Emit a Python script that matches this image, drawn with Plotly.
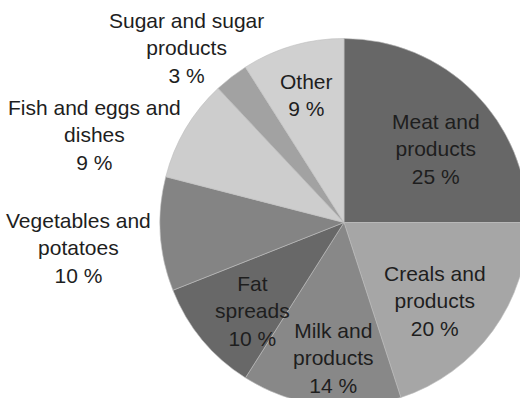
import plotly.graph_objects as go

# Share of intake by food group (%), clockwise from 12 o'clock
labels = [
    "Meat and<br>products",
    "Creals and<br>products",
    "Milk and<br>products",
    "Fat<br>spreads",
    "Vegetables and<br>potatoes",
    "Fish and eggs and<br>dishes",
    "Sugar and sugar<br>products",
    "Other",
]
values = [25, 20, 14, 10, 10, 9, 3, 9]
colors = ["#676767", "#a6a6a6", "#888888", "#686868",
          "#848484", "#cdcdcd", "#a2a2a2", "#d0d0d0"]

# label block centres in page pixels (from top-left)
label_x = [436, 435, 333, 252, 78, 94, 186, 306]
label_y = [149, 301, 358, 311, 248, 135, 48, 95]

W, H = 528, 407
R = 184
cx, cy = 344, 222.5

fig = go.Figure(
    go.Pie(
        labels=labels,
        values=values,
        sort=False,
        direction="clockwise",
        rotation=0,
        marker=dict(colors=colors, line=dict(color="#bdbdbd", width=0.6)),
        textinfo="none",
        hoverinfo="label+percent",
        showlegend=False,
        domain=dict(
            x=[(cx - R) / W, (cx + R) / W],
            y=[1 - (cy + R) / H, 1 - (cy - R) / H],
        ),
    )
)

for lab, val, x, y in zip(labels, values, label_x, label_y):
    fig.add_annotation(
        x=x / W, y=1 - y / H, xref="paper", yref="paper",
        text=f"{lab}<br>{val} %",
        showarrow=False, xanchor="center", yanchor="middle",
        align="center",
        font=dict(family="Liberation Sans, Arial, sans-serif", size=21, color="#1e1e1e"),
    )

fig.update_layout(
    width=W, height=H,
    margin=dict(l=0, r=0, t=0, b=0),
    paper_bgcolor="white",
    plot_bgcolor="white",
)

fig.write_html(
    "out.html",
    config={"displayModeBar": False},
    post_script="document.documentElement.style.overflow='hidden';document.body.style.overflow='hidden';document.body.style.margin='0';",
)
